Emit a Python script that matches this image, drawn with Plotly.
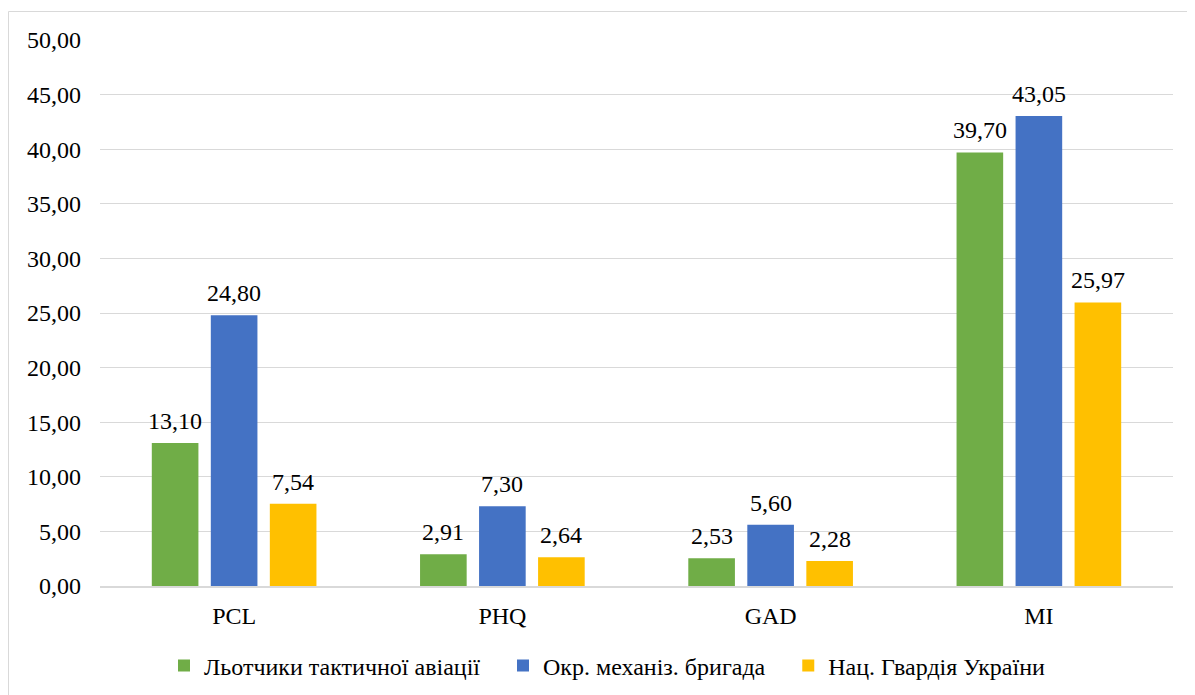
import plotly.graph_objects as go

categories = ["PCL", "PHQ", "GAD", "MI"]
series_names = ["Льотчики тактичної авіації", "Окр. механіз. бригада", "Нац. Гвардія України"]
pilots = [13.10, 2.91, 2.53, 39.70]
brigade = [24.80, 7.30, 5.60, 43.05]
guard = [7.54, 2.64, 2.28, 25.97]
colors = ["#70AD47", "#4472C4", "#FFC000"]
y_ticks = [0, 5, 10, 15, 20, 25, 30, 35, 40, 45, 50]

FONT = "Liberation Serif, Times New Roman, serif"
FS = 24
BARGAP = 0.34
GROUPGAP = 0.21
PAD = "\u00a0\u00a0\u00a0"  # extra spacing between legend entries

series = [pilots, brigade, guard]

fig = go.Figure()
for k, (name, vals, col) in enumerate(zip(series_names, series, colors)):
    fig.add_trace(go.Bar(
        x=categories, y=vals, name=name + (PAD if k < len(series) - 1 else ""),
        marker=dict(color=col, line=dict(width=0)),
    ))

# value labels placed above each bar, through the category axis
n = len(series)
slot = (1 - BARGAP) / n
annotations = []
for k, vals in enumerate(series):
    off = -(1 - BARGAP) / 2 + slot * (k + 0.5)
    for i, v in enumerate(vals):
        annotations.append(dict(
            x=i + off, y=v, xref="x", yref="y", text=f"{v:.2f}".replace(".", ","),
            showarrow=False, yanchor="bottom", xanchor="center", yshift=7,
            font=dict(family=FONT, size=FS, color="#000000"),
        ))

# page has an 8px body margin; figure coords = page coords - 8
W, H = 1187, 687
L, R, T, B = 92, 1165, 32, 578
pw, ph = R - L, B - T

fig.update_layout(
    width=W, height=H,
    margin=dict(l=L, r=W - R, t=T, b=H - B, autoexpand=False),
    paper_bgcolor="white", plot_bgcolor="white",
    barmode="group", bargap=BARGAP, bargroupgap=GROUPGAP,
    separators=", ",
    font=dict(family=FONT, size=FS, color="#000000"),
    showlegend=True,
    legend=dict(orientation="h", x=156 / W, xanchor="left", xref="container",
                y=1 - 658 / H, yanchor="middle", yref="container",
                font=dict(family=FONT, size=FS), itemwidth=30, traceorder="normal"),
    xaxis=dict(showline=True, linecolor="#d9d9d9", linewidth=2, ticks="",
               ticklabelstandoff=7, tickfont=dict(family=FONT, size=FS)),
    yaxis=dict(range=[0, 50], tickvals=y_ticks, tickformat=".2f", showgrid=True,
               gridcolor="#d9d9d9", gridwidth=1, zeroline=False, showline=False,
               ticks="", ticklabelstandoff=18, tickfont=dict(family=FONT, size=FS)),
    annotations=annotations,
    shapes=[dict(type="rect", xref="paper", yref="paper",
                 x0=(0.5 - L) / pw, x1=(1200 - L) / pw,
                 y0=(B - 700) / ph, y1=(B - 3.5) / ph,
                 line=dict(color="#d9d9d9", width=1), fillcolor="rgba(0,0,0,0)", layer="below")],
)

fig.write_html("out.html")
